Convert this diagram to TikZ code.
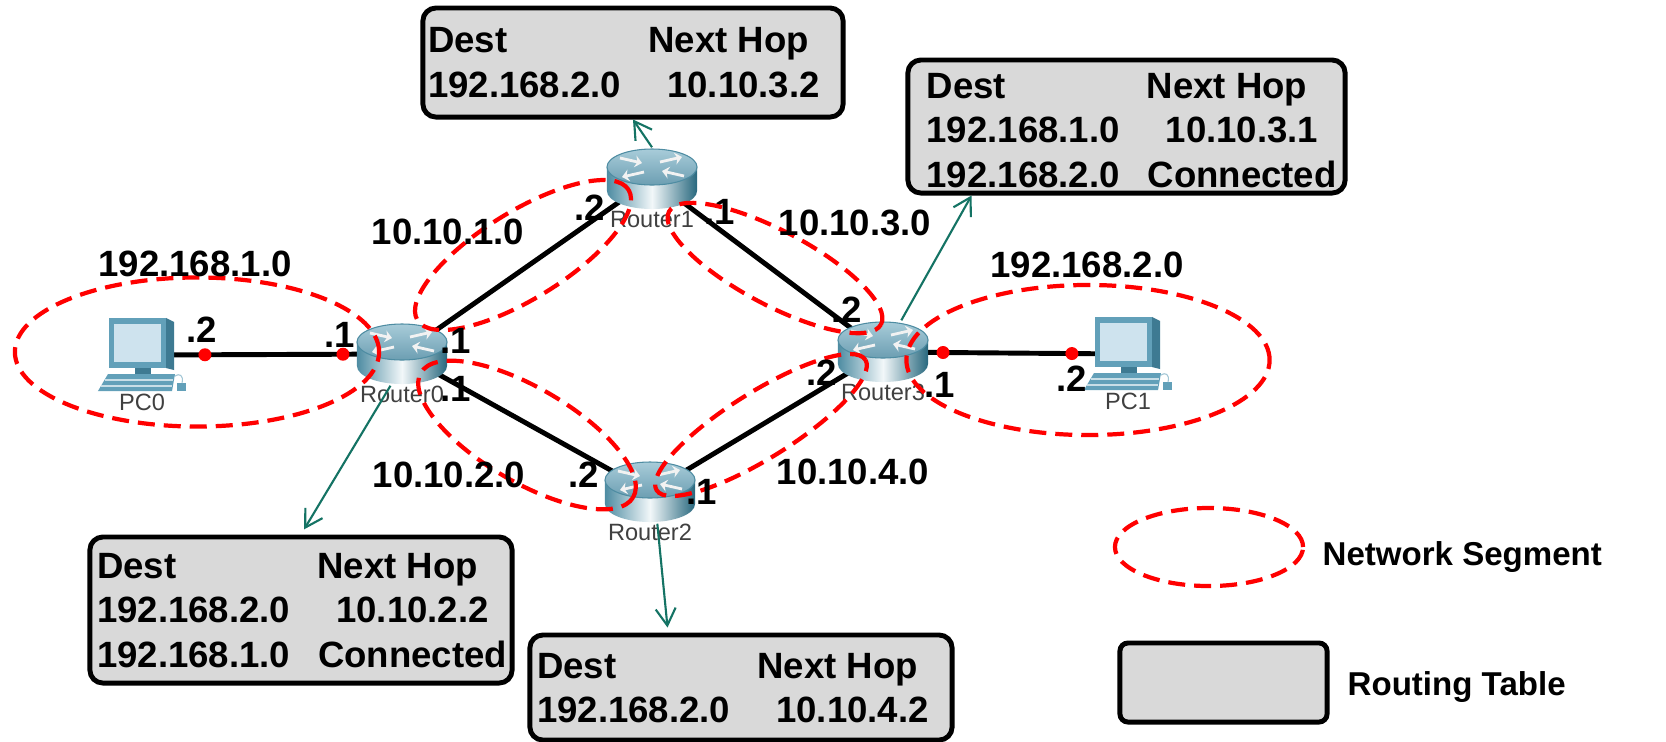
\documentclass[tikz,border=0pt]{standalone}
\usepackage{fontspec}
\setmainfont{Liberation Sans}
\usetikzlibrary{arrows.meta, positioning, shapes.geometric, backgrounds}
\definecolor{segred}{RGB}{255,0,0}
\definecolor{tablegray}{RGB}{217,217,217}
\definecolor{hopteal}{RGB}{20,115,100}
\definecolor{rtrtop}{RGB}{168,204,217}
\definecolor{rtrtopdark}{RGB}{108,158,178}
\definecolor{rtrside}{RGB}{78,140,162}
\definecolor{rtrdark}{RGB}{40,104,126}
\definecolor{pcframe}{RGB}{98,160,185}
\definecolor{pcdark}{RGB}{62,122,146}
\definecolor{pcscreen}{RGB}{206,227,238}
\tikzset{%
	router/.style={
		rectangle,
		inner sep=0pt,
		minimum width=0.92cm,
		minimum height=0.62cm,
		label distance=0.1cm,
		path picture={
			\begin{scope}[shift={(path picture bounding box.center)}, x=1cm, y=1cm]
				\shade[left color=rtrside, right color=rtrdark, middle color=white!85!rtrtop]
					(-0.45,0.12) -- (-0.45,-0.12) arc[start angle=180, end angle=360, x radius=0.45, y radius=0.18] -- (0.45,0.12) -- cycle;
				\shade[top color=rtrtop, bottom color=rtrtopdark, draw=rtrside, line width=0.3pt]
					(0,0.12) ellipse [x radius=0.45, y radius=0.18];
				\draw[white!90!gray, line width=0.8pt, -{Stealth[length=0.7mm, width=1.2mm]}] (-0.32,0.21) -- (-0.10,0.16);
				\draw[white!90!gray, line width=0.8pt, -{Stealth[length=0.7mm, width=1.2mm]}] (0.32,0.03) -- (0.10,0.08);
				\draw[white!90!gray, line width=0.8pt, -{Stealth[length=0.7mm, width=1.2mm]}] (-0.08,0.07) -- (-0.30,0.02);
				\draw[white!90!gray, line width=0.8pt, -{Stealth[length=0.7mm, width=1.2mm]}] (0.08,0.17) -- (0.30,0.22);
			\end{scope}
		}
	},
	pc/.style={
		rectangle,
		inner sep=0pt,
		minimum width=0.92cm,
		minimum height=0.76cm,
		label distance=0.09cm,
		path picture={
			\begin{scope}[shift={(path picture bounding box.center)}, x=1cm, y=1cm]
				\fill[pcdark] (0.24,0.37) -- (0.32,0.33) -- (0.32,-0.15) -- (0.24,-0.13) -- cycle;
				\fill[pcframe] (-0.33,-0.13) rectangle (0.24,0.37);
				\fill[pcscreen] (-0.28,-0.07) rectangle (0.19,0.31);
				\fill[pcdark] (-0.07,-0.13) rectangle (0.09,-0.19);
				\fill[pcframe] (-0.34,-0.19) -- (0.33,-0.19) -- (0.30,-0.36) -- (-0.44,-0.36) -- cycle;
				\draw[white!65!pcframe, line width=0.4pt] (-0.37,-0.25) -- (0.31,-0.25) (-0.41,-0.31) -- (0.30,-0.31);
				\fill[pcframe] (0.35,-0.36) rectangle (0.44,-0.28);
				\draw[pcframe!60, line width=0.3pt] (0.40,-0.28) .. controls (0.42,-0.20) and (0.37,-0.18) .. (0.33,-0.21);
			\end{scope}
		}
	},
	devlabel/.style={font=\fontsize{6.7}{8}\selectfont, text=black!75, inner sep=0pt},
	iflabel/.style={font=\bfseries\fontsize{10.4}{12}\selectfont, inner sep=0pt},
	legendlabel/.style={font=\bfseries\fontsize{9.4}{11}\selectfont, inner sep=0pt},
	wire/.style={line width=1.4pt, black},
	ifdot/.style={circle, fill=segred, inner sep=0pt, minimum size=0.13cm},
	netseg/.style={ellipse, draw=segred, line width=1.2pt, dash pattern=on 0.17cm off 0.09cm, inner sep=0pt},
	rtable/.style={draw, line width=1.4pt, fill=tablegray, rounded corners=0.13cm, inner sep=0pt},
	tabletext/.style={inner sep=0pt, font=\bfseries\fontsize{10.4}{12.6}\selectfont},
	tablearrow/.style={hopteal, line width=0.6pt, -{Straight Barb[length=1.7mm, width=2mm]}},
}
\begin{document}
\begin{tikzpicture}[x=0.01cm, y=-0.01cm]
	\useasboundingbox (0,0) rectangle (1666,741);
	
	% Devices
	\node[pc, label={[devlabel]below:PC0}] (PC0) at (142,355) {};
	\node[router, label={[devlabel]below:Router0}] (R0) at (402,354) {};
	\node[router, label={[devlabel]below:Router1}] (R1) at (652,179) {};
	\node[router, label={[devlabel]below:Router2}] (R2) at (650,492) {};
	\node[router, label={[devlabel]below:Router3}] (R3) at (883,352) {};
	\node[pc, label={[devlabel]below:PC1}] (PC1) at (1128,354) {};
	
	% Routing tables
	\node[rtable, minimum width=4.20cm, minimum height=1.09cm] (T1) at (633,62.5) {};
	\node[tabletext] (T1x) at (633.5,66)
		{\begin{tabular}{@{}l@{\hspace{0.27cm}}c@{}} Dest & Next Hop\kern0.3cm\\ 192.168.2.0 & 10.10.3.2 \end{tabular}};
	\node[rtable, minimum width=4.37cm, minimum height=1.33cm] (T3) at (1126.5,126.5) {};
	\node[tabletext] (T3x) at (1132,134)
		{\begin{tabular}{@{}l@{\hspace{0.27cm}}c@{}} Dest & Next Hop\kern0.3cm\\ 192.168.1.0 & 10.10.3.1\\ 192.168.2.0 & Connected \end{tabular}};
	\node[rtable, minimum width=4.22cm, minimum height=1.46cm] (T0) at (301,610) {};
	\node[tabletext] (T0x) at (302.5,614)
		{\begin{tabular}{@{}l@{\hspace{0.27cm}}c@{}} Dest & Next Hop\kern0.3cm\\ 192.168.2.0 & 10.10.2.2\\ 192.168.1.0 & Connected \end{tabular}};
	\node[rtable, minimum width=4.22cm, minimum height=1.05cm] (T2) at (741,687.5) {};
	\node[tabletext] (T2x) at (742.5,691.5)
		{\begin{tabular}{@{}l@{\hspace{0.27cm}}c@{}} Dest & Next Hop\kern0.3cm\\ 192.168.2.0 & 10.10.4.2 \end{tabular}};
	
	% Links
	\begin{scope}[on background layer]
		\fill[white] (0,0) rectangle (1666,741);
		\node[iflabel] (I13) at (720,212) {.1};
		\node[iflabel] (I31) at (847,310) {.2};
		\draw[wire] (PC0.center) -- node[ifdot, pos=0.242] (D1) {} node[ifdot, pos=0.773] (D2) {} (R0.center);
		\draw[wire] (R0.center) -- (R1.center);
		\draw[wire] (R0.center) -- (R2.center);
		\draw[wire] (R1.center) -- (R3.center);
		\draw[wire] (R2.center) -- (R3.center);
		\draw[wire] (R3.center) -- node[ifdot, pos=0.245] (D3) {} node[ifdot, pos=0.771] (D4) {} (PC1.center);
	\end{scope}
	
	% Network segments
	\node[netseg, minimum width=3.64cm, minimum height=1.49cm] (S0) at (197,352) {};
	\node[netseg, minimum width=3.63cm, minimum height=1.50cm] (S5) at (1088,360) {};
	\node[netseg, minimum width=2.48cm, minimum height=0.87cm, rotate=31.7] (S1) at (523,255) {};
	\node[netseg, minimum width=2.40cm, minimum height=0.74cm, rotate=-28] (S3) at (775,268) {};
	\node[netseg, minimum width=2.46cm, minimum height=0.94cm, rotate=-30.4] (S2) at (527,435) {};
	\node[netseg, minimum width=2.46cm, minimum height=0.66cm, rotate=32] (S4) at (761,425) {};
	
	% Router to table
	\draw[tablearrow] (R1.north) -- (T1.south);
	\draw[tablearrow] (R3.60) -- (T3.204);
	\draw[tablearrow, shorten >=0.06cm] (R0.250) -- (T0.north);
	\draw[tablearrow, shorten >=0.05cm] (R2.-77) -- (T2.143);
	
	% Segment addresses
	\node[iflabel] (N0) at (195,264) {192.168.1.0};
	\node[iflabel] (N1) at (448,232) {10.10.1.0};
	\node[iflabel] (N3) at (855,223) {10.10.3.0};
	\node[iflabel] (N5) at (1087,265) {192.168.2.0};
	\node[iflabel] (N2) at (449,475) {10.10.2.0};
	\node[iflabel] (N4) at (853,472) {10.10.4.0};
	
	% Interface addresses
	\node[iflabel] (Ip0) at (202,330) {.2};
	\node[iflabel] (I0p) at (340,335) {.1};
	\node[iflabel] (I01) at (456,341) {.1};
	\node[iflabel] (I02) at (456,389) {.1};
	\node[iflabel] (I10) at (590,208) {.2};
	\node[iflabel] (I20) at (584,475) {.2};
	\node[iflabel] (I23) at (702,492) {.1};
	\node[iflabel] (I32) at (822,373) {.2};
	\node[iflabel] (I3p) at (940,385) {.1};
	\node[iflabel] (Ip3) at (1072,379) {.2};
	
	% Legend
	\node[netseg, minimum width=1.88cm, minimum height=0.78cm] (LS) at (1209,547) {};
	\node[legendlabel, anchor=base west] (LSt) at (1322,565) {Network Segment};
	\node[rtable, minimum width=2.07cm, minimum height=0.79cm, rounded corners=0.08cm] (LT) at (1223.5,682.5) {};
	\node[legendlabel, anchor=base west] (LTt) at (1347,695) {Routing Table};
\end{tikzpicture}
\end{document}
